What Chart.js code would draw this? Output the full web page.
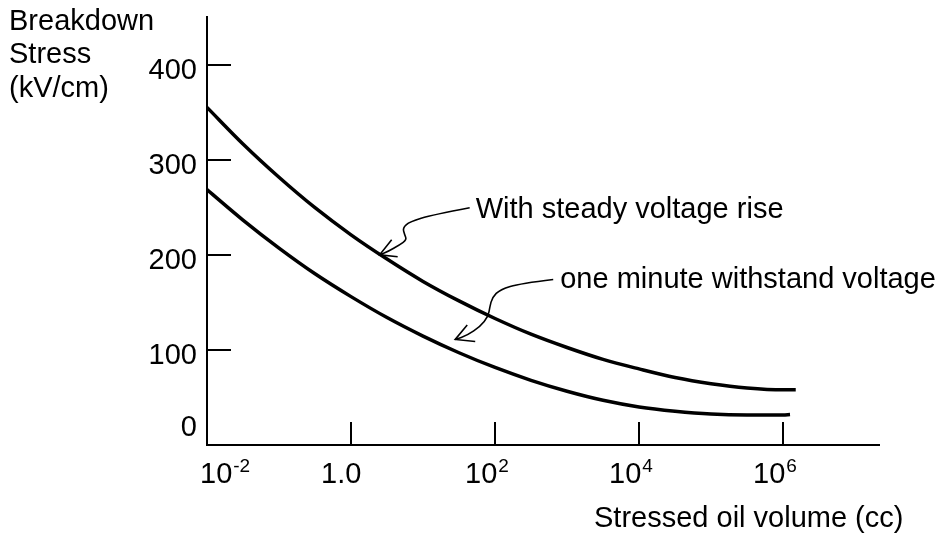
<!DOCTYPE html>
<html>
<head>
<meta charset="utf-8">
<script src="https://cdn.jsdelivr.net/npm/chart.js@4.4.1/dist/chart.umd.min.js"></script>
<style>
html, body { margin: 0; padding: 0; background: #fff; }
canvas { display: block; }
</style>
</head>
<body>
<canvas id="chart" width="944" height="533"></canvas>
<script>
// stressed oil volume (cc) and breakdown stress (kV/cm)
var volSteady    = [0.01, 0.0316, 0.1, 0.316, 1, 3.16, 10, 31.6, 100, 316, 1000, 3160, 1e4, 3.16e4, 1e5, 3.16e5, 1e6, 1.5e6];
var stressSteady = [355, 316.5, 281.5, 249.5, 221, 195.5, 172, 151.5, 133, 116.5, 102.5, 90, 80, 71, 64.5, 60, 58, 58];
var volOneMin    = [0.01, 0.0316, 0.1, 0.316, 1, 3.16, 10, 31.6, 100, 316, 1000, 3160, 1e4, 3.16e4, 1e5, 3.16e5, 1e6, 1.25e6];
var stressOneMin = [268.5, 236.5, 207, 180, 156, 134, 114.5, 97, 81.5, 68, 56.5, 47, 40, 35.5, 32.5, 31.5, 31.5, 32];

var xTicks    = [0.01, 1, 100, 1e4, 1e6];
var xTickBase = ['10', '1.0', '10', '10', '10'];
var xTickExp  = ['-2', '', '2', '4', '6'];
var yTicks    = [0, 100, 200, 300, 400];

var xMax = 2.15e7, yMax = 450;

var FONT = '29px "Liberation Sans", Arial, sans-serif';
var SUP  = '19px "Liberation Sans", Arial, sans-serif';

// arrows: tip sits on a data point, squiggle drawn as pixel offsets from it
var notes = [
  { text: 'With steady voltage rise', at: [2.5, 200], label: [96, -37],
    path: [[90,-47],[53,-40],[30,-33],[23,-27],[25,-20],[27,-15],[20,-10],[8,-3],[0,0]],
    head: [[12,-15],[18,2]] },
  { text: 'one minute withstand voltage', at: [28, 111], label: [105, -51.5],
    path: [[98,-60],[65,-56],[45,-50],[37,-42],[34.5,-32],[33,-23],[25,-13],[12,-4],[0,0]],
    head: [[12,-14.5],[20,2]] }
];

function pairs(xs, ys) {
  return xs.map(function (v, i) { return { x: v, y: ys[i] }; });
}

var decor = {
  id: 'decor',
  afterDraw: function (chart) {
    var ctx = chart.ctx, xs = chart.scales.x, ys = chart.scales.y, a = chart.chartArea;
    ctx.save();
    ctx.strokeStyle = '#000';
    ctx.fillStyle = '#000';
    ctx.lineWidth = 2;

    // inward tick marks
    yTicks.forEach(function (v) {
      if (v === 0) return;
      var y = Math.round(ys.getPixelForValue(v));
      ctx.beginPath(); ctx.moveTo(a.left, y); ctx.lineTo(a.left + 24, y); ctx.stroke();
    });
    xTicks.forEach(function (v, i) {
      if (i === 0) return;
      var x = Math.round(xs.getPixelForValue(v));
      ctx.beginPath(); ctx.moveTo(x, a.bottom); ctx.lineTo(x, a.bottom - 23); ctx.stroke();
    });

    // y labels
    ctx.font = FONT;
    ctx.textAlign = 'right';
    ctx.textBaseline = 'alphabetic';
    yTicks.forEach(function (v) {
      var y = ys.getPixelForValue(v);
      ctx.fillText(String(v), 197, v === 0 ? y - 9 : y + 14);
    });

    // x labels with superscripts
    ctx.textAlign = 'left';
    xTicks.forEach(function (v, i) {
      var px = xs.getPixelForValue(v);
      var left = i === 0 ? px - 7 : px - 30;
      ctx.font = FONT;
      ctx.fillText(xTickBase[i], left, 483);
      if (xTickExp[i]) {
        var w = ctx.measureText(xTickBase[i]).width;
        ctx.font = SUP;
        ctx.fillText(xTickExp[i], left + w + 1, 472);
      }
    });

    // axis titles
    ctx.font = FONT;
    ctx.fillText('Breakdown', 9, 30);
    ctx.fillText('Stress', 9, 63);
    ctx.fillText('(kV/cm)', 9, 97);
    ctx.fillText('Stressed oil volume (cc)', 594, 527);

    // annotations
    notes.forEach(function (n) {
      var tx = xs.getPixelForValue(n.at[0]), ty = ys.getPixelForValue(n.at[1]);
      var p = n.path.map(function (o) { return [tx + o[0], ty + o[1]]; });
      ctx.lineWidth = 1.6;
      ctx.beginPath();
      ctx.moveTo(p[0][0], p[0][1]);
      for (var i = 1; i < p.length - 1; i++) {
        var mx = (p[i][0] + p[i + 1][0]) / 2, my = (p[i][1] + p[i + 1][1]) / 2;
        ctx.quadraticCurveTo(p[i][0], p[i][1], mx, my);
      }
      ctx.lineTo(p[p.length - 1][0], p[p.length - 1][1]);
      ctx.stroke();
      ctx.beginPath();
      ctx.moveTo(tx + n.head[0][0], ty + n.head[0][1]);
      ctx.lineTo(tx, ty);
      ctx.lineTo(tx + n.head[1][0], ty + n.head[1][1]);
      ctx.stroke();
      ctx.font = FONT;
      ctx.fillText(n.text, tx + n.label[0], ty + n.label[1]);
    });
    ctx.restore();
  }
};

var ctx = document.getElementById('chart').getContext('2d');
var myChart = new Chart(ctx, {
  type: 'line',
  data: {
    datasets: [{
      label: 'With steady voltage rise',
      data: pairs(volSteady, stressSteady),
      borderColor: '#000',
      borderWidth: 3.5,
      pointRadius: 0,
      fill: false,
      cubicInterpolationMode: 'monotone'
    }, {
      label: 'one minute withstand voltage',
      data: pairs(volOneMin, stressOneMin),
      borderColor: '#000',
      borderWidth: 3.5,
      pointRadius: 0,
      fill: false,
      cubicInterpolationMode: 'monotone'
    }]
  },
  options: {
    responsive: false,
    animation: false,
    devicePixelRatio: 1,
    layout: { padding: { left: 207, right: 65, top: 17, bottom: 88 } },
    plugins: { legend: { display: false }, tooltip: { enabled: false } },
    scales: {
      x: {
        type: 'logarithmic', min: 0.01, max: xMax,
        grid: { display: false, drawTicks: false },
        ticks: { display: false },
        border: { display: true, color: '#000', width: 2 }
      },
      y: {
        type: 'linear', min: 0, max: yMax,
        grid: { display: false, drawTicks: false },
        ticks: { display: false },
        border: { display: true, color: '#000', width: 2 }
      }
    }
  },
  plugins: [decor]
});
</script>
</body>
</html>
